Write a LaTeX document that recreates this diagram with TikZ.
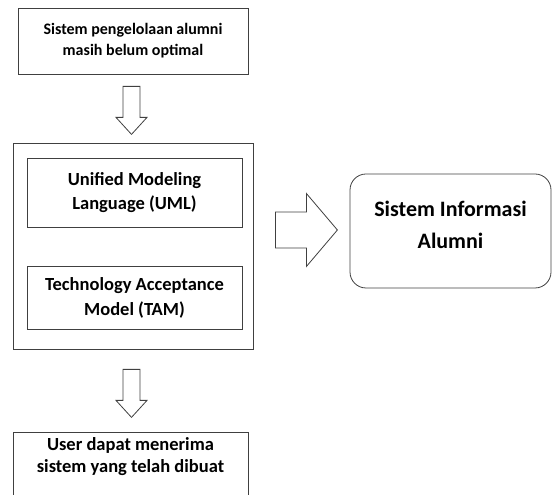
\documentclass[tikz,border=0pt]{standalone}
\usepackage{fontspec}
\setmainfont{Carlito}
\usetikzlibrary{calc}
\usetikzlibrary{positioning}

\definecolor{garis}{gray}{0.25}

\newcommand{\panahbawah}[1]{%
    \draw[panah] #1 ++(-8.5,0) -- ++(17,0) -- ++(0,-31) -- ++(7,0)
        -- ++(-15.5,-17) -- ++(-15.5,17) -- ++(7,0) -- cycle;}

\begin{document}
\begin{tikzpicture}[x=1pt,y=1pt,
    kotak/.style={draw=garis, line width=0.8pt, align=center, inner sep=0pt},
    panah/.style={draw=garis, line width=0.8pt, fill=white, line join=miter}]

    \useasboundingbox (0,0) rectangle (552,495);
    \clip (0,0) rectangle (552,495);

    \node[kotak, minimum width=230pt, minimum height=66pt,
        font=\bfseries\fontsize{16}{21}\selectfont] (masalah) at (133,454)
        {Sistem pengelolaan alumni\\masih belum optimal};

    \node[kotak, minimum width=240pt, minimum height=206pt] (kerangka) at (133,249) {};
    \node[kotak, minimum width=215pt, minimum height=69pt,
        font=\bfseries\fontsize{18.5}{24}\selectfont] (uml) at (134.5,302.5)
        {Unified Modeling\\Language (UML)};
    \node[kotak, minimum width=215pt, minimum height=63pt,
        font=\bfseries\fontsize{18.5}{25}\selectfont] (tam) at (134.5,197.5)
        {Technology Acceptance\\Model (TAM)};

    \node[kotak, rounded corners=16pt, minimum width=201pt, minimum height=114pt,
        text height=50pt, text depth=14pt,
        font=\bfseries\fontsize{22}{32}\selectfont] (sia) at (450.5,264)
        {Sistem Informasi\\Alumni};

    \node[kotak, anchor=north, minimum width=235pt, minimum height=90pt] (hasil) at (130.5,63) {};
    \node[below=5pt of hasil.north, inner sep=0pt, align=center,
        font=\bfseries\fontsize{18.5}{22}\selectfont] (hasilteks)
        {User dapat menerima\\sistem yang telah dibuat};

    \panahbawah{($(masalah.south)+(-1.5,-12)$)}
    \panahbawah{($(kerangka.south)+(-1.5,-20)$)}

    \draw[panah] ($(kerangka.east |- sia.west)+(22,1)$) ++(0,-18) -- ++(0,36) -- ++(31,0)
        -- ++(0,18.5) -- ++(31,-36.5) -- ++(-31,-36.5) -- ++(0,18.5) -- cycle;
\end{tikzpicture}
\end{document}
